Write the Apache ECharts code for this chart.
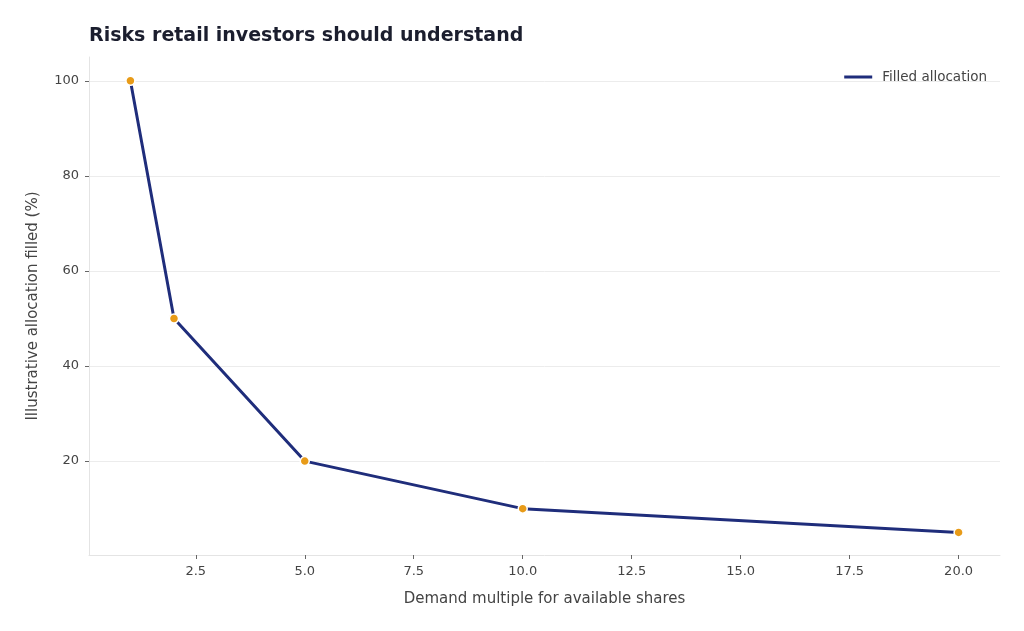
<!DOCTYPE html>
<html>
<head>
<meta charset="utf-8">
<script src="https://cdn.jsdelivr.net/npm/echarts@6/dist/echarts.min.js"></script>
<style>html,body{margin:0;padding:0;background:#fff}#c{width:1024px;height:631px}</style>
</head>
<body>
<div id="c"></div>
<script>
const demandMultiple = [1, 2, 5, 10, 20];
const allocationFilled = [100, 50, 20, 10, 5];
const xTicks = [2.5, 5, 7.5, 10, 12.5, 15, 17.5, 20];
const yTicks = [20, 40, 60, 80, 100];

const chart = echarts.init(document.getElementById('c'), null, {renderer: 'canvas'});
const font = 'DejaVu Sans';
chart.setOption({
  backgroundColor: '#ffffff',
  animation: false,
  title: {
    text: 'Risks retail investors should understand',
    left: 84, top: 22,
    textStyle: {fontFamily: font, fontSize: 19, fontWeight: 'bold', color: '#1b1e2e'}
  },
  legend: {
    right: 32, top: 65,
    icon: 'rect',
    itemWidth: 28, itemHeight: 3, itemGap: 10,
    itemStyle: {color: '#1f2d7b', borderWidth: 0},
    textStyle: {fontFamily: font, fontSize: 13.5, color: '#444', padding: [0, 0, 0, 5]},
    data: [{name: 'Filled allocation'}]
  },
  grid: {left: 89, right: 24, top: 57, bottom: 76, containLabel: false},
  xAxis: {
    type: 'value', min: 0.05, max: 20.95,
    name: 'Demand multiple for available shares',
    nameLocation: 'middle', nameGap: 37,
    nameTextStyle: {fontFamily: font, fontSize: 15, color: '#444'},
    axisLine: {show: true, lineStyle: {color: '#e4e4e4', width: 1}},
    axisTick: {show: true, customValues: xTicks, length: 4, lineStyle: {color: '#666'}},
    axisLabel: {customValues: xTicks, fontFamily: font, fontSize: 13, color: '#444', margin: 10,
      formatter: v => Number(v).toFixed(1)},
    splitLine: {show: false}
  },
  yAxis: {
    type: 'value', min: 0.25, max: 105,
    name: 'Illustrative allocation filled (%)',
    nameLocation: 'middle', nameGap: 48,
    nameTextStyle: {fontFamily: font, fontSize: 15, color: '#444'},
    axisLine: {show: true, lineStyle: {color: '#e4e4e4', width: 1}},
    axisTick: {show: true, customValues: yTicks, length: 4, lineStyle: {color: '#666'}},
    axisLabel: {customValues: yTicks, fontFamily: font, fontSize: 13, color: '#444', margin: 10},
    splitLine: {show: true, lineStyle: {color: '#ececec', width: 1}}
  },
  series: [{
    name: 'Filled allocation',
    type: 'line',
    data: demandMultiple.map((x, i) => [x, allocationFilled[i]]),
    lineStyle: {color: '#1f2d7b', width: 3},
    itemStyle: {color: '#e89b18', borderColor: '#ffffff', borderWidth: 1.5},
    symbol: 'circle', symbolSize: 9,
    showSymbol: true,
    z: 3
  }]
});
</script>
</body>
</html>
